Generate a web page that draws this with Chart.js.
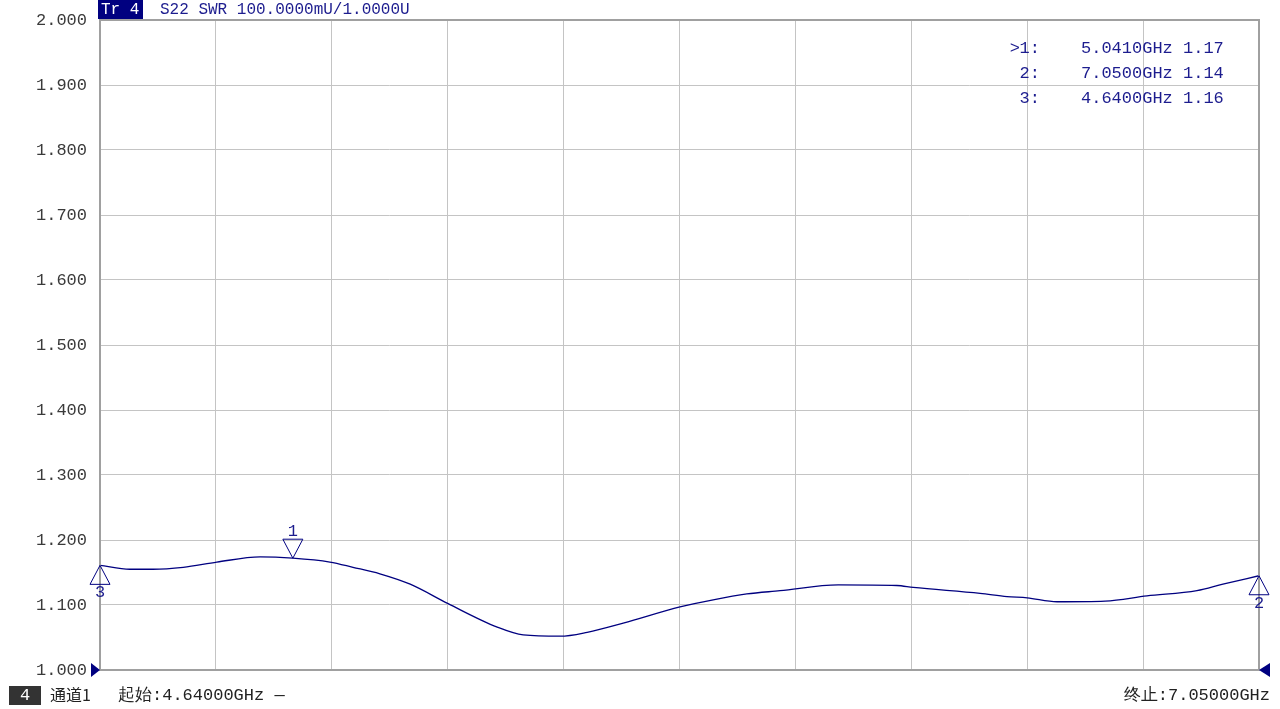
<!DOCTYPE html>
<html>
<head>
<meta charset="utf-8">
<script src="https://cdn.jsdelivr.net/npm/chart.js@4/dist/chart.umd.min.js"></script>
<style>
  html, body { margin: 0; padding: 0; background: #fff; }
  #wrap { width: 1280px; height: 709px; position: relative; }
</style>
</head>
<body>
<div id="wrap"><canvas id="swrChart" width="1280" height="709"></canvas></div>
<script>
// trace S22 SWR, frequency in GHz
const freqs = [4.640, 4.702, 4.750, 4.813, 4.883, 4.973, 5.041, 5.118, 5.166, 5.222, 5.285, 5.364,
    5.466, 5.520, 5.597, 5.653, 5.728, 5.846, 5.915, 5.985, 6.054, 6.175, 6.297, 6.331, 6.470,
    6.526, 6.568, 6.630, 6.730, 6.817, 6.921, 6.975, 7.050];
const swr = [1.161, 1.155, 1.155, 1.158, 1.166, 1.174, 1.172, 1.166, 1.158, 1.148, 1.132, 1.102,
    1.066, 1.054, 1.052, 1.058, 1.072, 1.097, 1.108, 1.117, 1.122, 1.131, 1.130, 1.127, 1.118,
    1.113, 1.111, 1.105, 1.106, 1.114, 1.122, 1.132, 1.145];

// markers
const markerIds = [1, 2, 3];
const markerFreqs = [5.041, 7.050, 4.640];
const markerValues = [1.17, 1.14, 1.16];
const markerTraceY = [1.172, 1.145, 1.161];

const xStart = 4.64, xStop = 7.05;
const yMin = 1.0, yMax = 2.0, yStep = 0.1;

const NAVY = '#000080';
const TXT_BLUE = '#1c1c8e';
const MONO = '"Liberation Mono", "DejaVu Sans Mono", monospace';
const CJK = '"Noto Sans CJK SC", sans-serif';

const overlay = {
    id: 'overlay',
    afterDraw(chart) {
        const ctx = chart.ctx;
        const area = chart.chartArea;
        const xs = chart.scales.x, ys = chart.scales.y;
        ctx.save();

        // frame
        ctx.strokeStyle = '#a0a0a0';
        ctx.lineWidth = 2;
        ctx.strokeRect(area.left, area.top, area.right - area.left, area.bottom - area.top);

        // reference arrows at 1.000
        const ry = ys.getPixelForValue(yMin);
        ctx.fillStyle = NAVY;
        ctx.beginPath();
        ctx.moveTo(area.left - 9, ry - 7); ctx.lineTo(area.left, ry); ctx.lineTo(area.left - 9, ry + 7);
        ctx.closePath(); ctx.fill();
        ctx.beginPath();
        ctx.moveTo(area.right + 11, ry - 7); ctx.lineTo(area.right, ry); ctx.lineTo(area.right + 11, ry + 7);
        ctx.closePath(); ctx.fill();

        // marker triangles
        ctx.strokeStyle = NAVY;
        ctx.lineWidth = 1;
        ctx.fillStyle = TXT_BLUE;
        ctx.font = '17px ' + MONO;
        ctx.textAlign = 'center';
        markerIds.forEach((id, i) => {
            const px = xs.getPixelForValue(markerFreqs[i]);
            const py = ys.getPixelForValue(markerTraceY[i]);
            ctx.beginPath();
            if (id === 1) {
                ctx.moveTo(px, py); ctx.lineTo(px - 10, py - 19); ctx.lineTo(px + 10, py - 19);
                ctx.closePath(); ctx.stroke();
                ctx.textBaseline = 'bottom';
                ctx.fillText(String(id), px, py - 18);
            } else {
                ctx.moveTo(px, py); ctx.lineTo(px - 10, py + 19); ctx.lineTo(px + 10, py + 19);
                ctx.closePath(); ctx.stroke();
                ctx.textBaseline = 'top';
                ctx.fillText(String(id), px, py + 19);
            }
        });

        // marker table
        ctx.textBaseline = 'middle';
        ctx.font = '17px ' + MONO;
        ctx.fillStyle = TXT_BLUE;
        markerIds.forEach((id, i) => {
            const ty = 48 + i * 25;
            ctx.textAlign = 'right';
            if (i === 0) ctx.fillText('>', 1020, ty);
            ctx.fillText(id + ':', 1040, ty);
            ctx.textAlign = 'left';
            ctx.fillText(markerFreqs[i].toFixed(4) + 'GHz ' + markerValues[i].toFixed(2), 1081, ty);
        });

        // header
        ctx.fillStyle = NAVY;
        ctx.fillRect(98, 0, 45, 19);
        ctx.fillStyle = '#ffffff';
        ctx.textAlign = 'left';
        ctx.textBaseline = 'middle';
        ctx.font = '16px ' + MONO;
        ctx.fillText('Tr 4', 101, 10);
        ctx.fillStyle = TXT_BLUE;
        ctx.fillText('S22 SWR 100.0000mU/1.0000U', 160, 10);

        // footer
        ctx.fillStyle = '#333333';
        ctx.fillRect(9, 686, 32, 19);
        ctx.fillStyle = '#ffffff';
        ctx.textAlign = 'center';
        ctx.font = '17px ' + MONO;
        ctx.fillText('4', 25, 695);
        ctx.fillStyle = '#222222';
        ctx.textAlign = 'left';
        ctx.font = '16px ' + CJK;
        ctx.fillText('通道1', 50, 695);
        ctx.font = '17px ' + MONO;
        ctx.fillText('起始:' + xStart.toFixed(5) + 'GHz —', 118, 695);
        ctx.textAlign = 'right';
        ctx.fillText('终止:' + xStop.toFixed(5) + 'GHz', 1270, 695);
        ctx.restore();
    }
};

new Chart(document.getElementById('swrChart'), {
    type: 'line',
    data: {
        datasets: [{
            data: freqs.map((f, i) => ({ x: f, y: swr[i] })),
            borderColor: NAVY,
            borderWidth: 1.3,
            pointRadius: 0,
            cubicInterpolationMode: 'monotone',
            fill: false
        }]
    },
    options: {
        responsive: false,
        animation: false,
        events: [],
        layout: { padding: { left: 0, top: 20, right: 21, bottom: 0 } },
        plugins: { legend: { display: false }, tooltip: { enabled: false } },
        scales: {
            x: {
                type: 'linear',
                min: xStart,
                max: xStop,
                afterBuildTicks: (scale) => {
                    const t = [];
                    for (let k = 0; k <= 10; k++) t.push({ value: xStart + k * (xStop - xStart) / 10 });
                    scale.ticks = t;
                },
                afterFit: (scale) => { scale.height = 39; scale.paddingLeft = 0; scale.paddingRight = 0; },
                ticks: { display: false },
                grid: { color: '#c4c4c4', lineWidth: 1, drawTicks: false },
                border: { display: false }
            },
            y: {
                min: yMin,
                max: yMax,
                afterFit: (scale) => { scale.width = 100; scale.paddingTop = 0; scale.paddingBottom = 0; },
                ticks: {
                    stepSize: yStep,
                    padding: 13,
                    color: '#3a3a3a',
                    font: { family: MONO, size: 17 },
                    callback: (v) => v.toFixed(3)
                },
                grid: { color: '#c4c4c4', lineWidth: 1, drawTicks: false },
                border: { display: false }
            }
        }
    },
    plugins: [overlay]
});
</script>
</body>
</html>
